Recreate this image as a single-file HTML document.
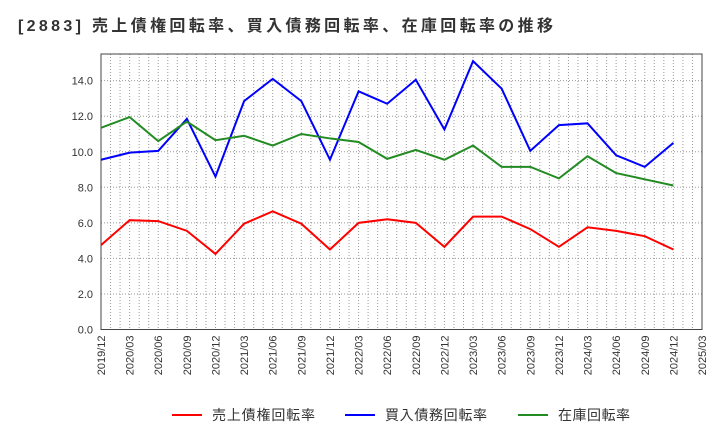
<!DOCTYPE html>
<html><head><meta charset="utf-8"><style>
body{margin:0;background:#fff;font-family:"Liberation Sans","Noto Sans CJK JP",sans-serif;}
svg text{font-family:"Liberation Sans","Noto Sans CJK JP",sans-serif;}
</style></head><body>
<svg id="c" width="720" height="440" xmlns="http://www.w3.org/2000/svg">
<text x="18" y="31" font-size="16" font-weight="bold" fill="#333" textLength="535" lengthAdjust="spacing">[2883]  売上債権回転率、買入債務回転率、在庫回転率の推移</text>
<g id="grid"></g><g id="axes"></g><g id="series"></g>
<g>
<line x1="172" y1="415" x2="202" y2="415" stroke="#f00" stroke-width="2"/><text x="212" y="420" font-size="14" fill="#333" textLength="103" lengthAdjust="spacing">売上債権回転率</text>
<line x1="345" y1="415" x2="375" y2="415" stroke="#00f" stroke-width="2"/><text x="385" y="420" font-size="14" fill="#333" textLength="102" lengthAdjust="spacing">買入債務回転率</text>
<line x1="518" y1="415" x2="548" y2="415" stroke="#228b22" stroke-width="2"/><text x="558" y="420" font-size="14" fill="#333" textLength="72" lengthAdjust="spacing">在庫回転率</text>
</g>
</svg>
<script>
const xLabels=["2019/12","2020/03","2020/06","2020/09","2020/12","2021/03","2021/06","2021/09","2021/12","2022/03","2022/06","2022/09","2022/12","2023/03","2023/06","2023/09","2023/12","2024/03","2024/06","2024/09","2024/12","2025/03"];
const yTicks=[0,2,4,6,8,10,12,14];
const receivables=[4.75,6.15,6.1,5.55,4.25,5.95,6.65,5.95,4.5,6.0,6.2,6.0,4.65,6.35,6.35,5.65,4.65,5.75,5.55,5.25,4.5];
const payables=[9.55,9.95,10.05,11.85,8.6,12.85,14.1,12.85,9.55,13.4,12.7,14.05,11.25,15.1,13.55,10.05,11.5,11.6,9.8,9.15,10.5];
const inventory=[11.35,11.95,10.6,11.7,10.65,10.9,10.35,11.0,10.75,10.55,9.6,10.1,9.55,10.35,9.15,9.15,8.5,9.75,8.8,8.45,8.1];
const L=101,R=702,T=54,B=329.5,ymax=15.5;
const xs=i=>L+i*(R-L)/21;
const ys=v=>B-v*(B-T)/ymax;
const NS="http://www.w3.org/2000/svg";
function mk(t,a,p){const e=document.createElementNS(NS,t);for(const k in a)e.setAttribute(k,a[k]);p.appendChild(e);return e;}
const grid=document.getElementById('grid'),axes=document.getElementById('axes'),ser=document.getElementById('series');
for(let m=1;m<63;m++){const x=L+m*(R-L)/63;const l=mk('line',{x1:x,y1:T,x2:x,y2:B,stroke:'#999','stroke-dasharray':'1,2','stroke-width':1},grid);

}
yTicks.forEach(v=>{const y=ys(v);if(v>0){const l=mk('line',{x1:L,y1:y,x2:R,y2:y,stroke:'#999','stroke-dasharray':'1,2'},grid);

}
const t=mk('text',{x:L-8,y:y+4,'font-size':11,'text-anchor':'end',fill:'#333'},axes);t.textContent=v.toFixed(1);

});
xLabels.forEach((s,i)=>{const x=xs(i);const t=mk('text',{x:0,y:0,'font-size':11,'text-anchor':'end',fill:'#333',transform:`translate(${x+4},${B+6}) rotate(-90)`},axes);t.textContent=s;

});
const fr=mk('rect',{x:L,y:T,width:R-L,height:B-T,fill:'none',stroke:'#444'},axes);


[[receivables,'#f00','receivables-line'],[payables,'#00f','payables-line'],[inventory,'#228b22','inventory-line']].forEach(([d,c,n])=>{
const p=mk('polyline',{points:d.map((v,i)=>xs(i)+','+ys(v)).join(' '),fill:'none',stroke:c,'stroke-width':2},ser);

});
</script>
</body></html>
